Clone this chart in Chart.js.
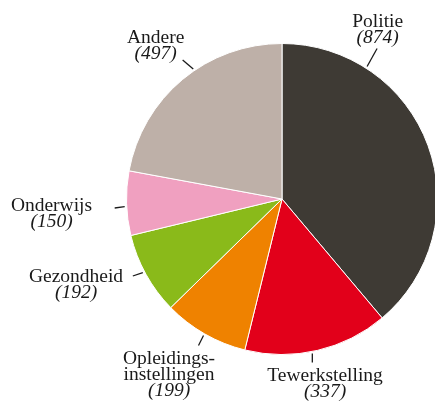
<!DOCTYPE html>
<html>
<head>
<meta charset="utf-8">
<script src="https://cdn.jsdelivr.net/npm/chart.js@4.4.1/dist/chart.umd.min.js"></script>
<style>
  html, body { margin: 0; padding: 0; background: #fff; }
  body { width: 435px; height: 402px; overflow: hidden; position: relative; }
  #pie { position: absolute; left: 0; top: 0; }
</style>
</head>
<body>
<canvas id="pie" width="480" height="402"></canvas>
<script>
const categories = ["Politie", "Tewerkstelling", ["Opleidings-", "instellingen"], "Gezondheid", "Onderwijs", "Andere"];
const counts = [874, 337, 199, 192, 150, 497];
const colors = ["#3e3a34", "#e2001a", "#ef8200", "#8aba1a", "#f0a0c0", "#beb0a8"];

// label placement: rim angle (deg, clockwise from top), tick vector, text offset from centre
const labelLayout = [
  { angle: 32.7,   tick: [10, -18],   x: 95.7,   y: -172.5 },
  { angle: 168.9,  tick: [0, 9],      x: 43,     y: 182 },
  { angle: -150.1, tick: [-5, 10],    x: -113,   y: 165.3 },
  { angle: -117.9, tick: [-10, 3.3],  x: -206,   y: 82.7 },
  { angle: -92.8,  tick: [-10, 1.3],  x: -230.5, y: 11.7 },
  { angle: -34.3,  tick: [-10.6, -9], x: -126.3, y: -155.7 }
];

const FONT = "'Liberation Serif', 'DejaVu Serif', serif";
const LINE = 16;

const pieLabels = {
  id: "pieLabels",
  afterDraw(chart) {
    const ctx = chart.ctx;
    const arcs = chart.getDatasetMeta(0).data;
    ctx.save();
    ctx.fillStyle = "#1a1a1a";
    ctx.strokeStyle = "#1a1a1a";
    ctx.lineWidth = 1.3;
    ctx.textAlign = "center";
    ctx.textBaseline = "alphabetic";

    arcs.forEach((arc, i) => {
      const lay = labelLayout[i];
      const cx = arc.x, cy = arc.y;
      const r = arc.outerRadius + 2;
      const a = lay.angle * Math.PI / 180;
      const sx = cx + r * Math.sin(a);
      const sy = cy - r * Math.cos(a);

      ctx.beginPath();
      ctx.moveTo(sx, sy);
      ctx.lineTo(sx + lay.tick[0], sy + lay.tick[1]);
      ctx.stroke();

      const name = chart.data.labels[i];
      const lines = Array.isArray(name) ? name : [name];
      let y = cy + lay.y;
      ctx.font = "19.5px " + FONT;
      lines.forEach(t => {
        ctx.fillText(t, cx + lay.x, y);
        y += LINE;
      });
      ctx.font = "italic 19.5px " + FONT;
      ctx.fillText("(" + chart.data.datasets[0].data[i] + ")", cx + lay.x, y);
    });
    ctx.restore();
  }
};

new Chart(document.getElementById("pie"), {
  type: "pie",
  data: {
    labels: categories,
    datasets: [{
      data: counts,
      backgroundColor: colors,
      borderColor: "#ffffff",
      borderWidth: 1
    }]
  },
  options: {
    responsive: false,
    animation: false,
    layout: { padding: { left: 126, top: 43, right: 42, bottom: 47 } },
    plugins: {
      legend: { display: false },
      tooltip: { enabled: false }
    }
  },
  plugins: [pieLabels]
});
</script>
</body>
</html>
